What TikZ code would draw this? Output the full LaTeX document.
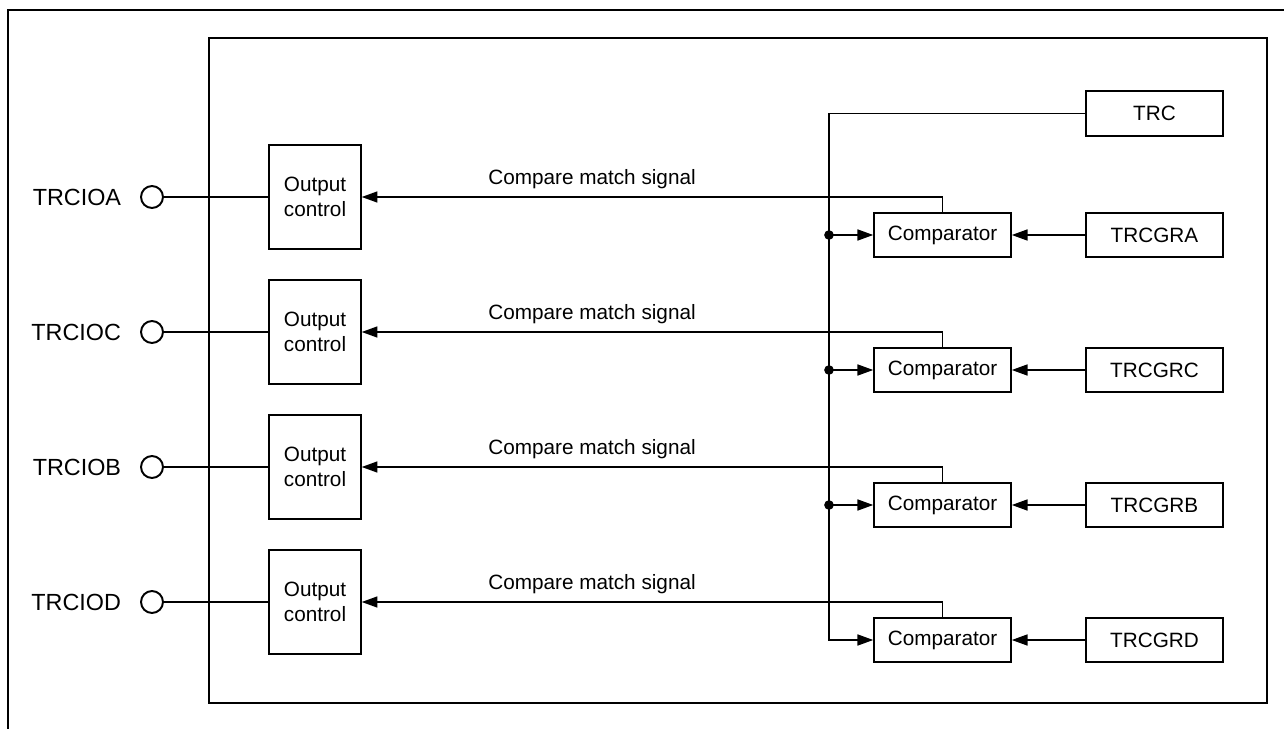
\documentclass[tikz,border=0pt]{standalone}
\usepackage{fontspec}
\setmainfont{Liberation Sans}
\usetikzlibrary{arrows.meta}
\begin{document}
\begin{tikzpicture}[x=0.02cm,y=-0.02cm,
  line width=1.1pt,
  arr/.style={-{Triangle[length=9pt,width=6.2pt]}},
  term/.style={circle,draw,minimum size=12.5pt,inner sep=0pt},
  tlabel/.style={inner sep=0pt,font=\fontsize{13.3}{16}\selectfont},
  outbox/.style={draw,minimum width=52pt,minimum height=59.5pt,inner sep=0pt,align=center,font=\fontsize{11.8}{14}\selectfont},
  cmpbox/.style={draw,minimum width=77.7pt,minimum height=25.5pt,inner sep=0pt,font=\fontsize{11.8}{14}\selectfont},
  sig/.style={inner sep=0pt,font=\fontsize{11.8}{14}\selectfont},
  dot/.style={circle,fill,inner sep=0pt,minimum size=5.5pt}]
\useasboundingbox (0,0) rectangle (1284,729);
% outer partial frame
\draw[line width=1.5pt] (8,729) -- (8,10) -- (1284,10);
% inner box
\draw[line width=1.2pt] (209,38) rectangle (1267,703);
% TRC
\node[cmpbox] (trc) at (1154.5,113.5) {TRC};
\coordinate (bus) at (829,113.5);
% rows
\foreach \n/\lab/\reg/\ry in {A/TRCIOA/TRCGRA/197, C/TRCIOC/TRCGRC/332, B/TRCIOB/TRCGRB/467, D/TRCIOD/TRCGRD/602}{
  \node[term] (t\n) at (152,\ry) {};
  \node[tlabel,anchor=east] (l\n) at (122,\ry) {\lab};
  \node[outbox] (o\n) at (315,\ry) {Output\\control};
  \node[cmpbox] (c\n) at (942.5,\ry+38) {Comparator};
  \node[cmpbox] (r\n) at (1154.5,\ry+38) {\reg};
  \coordinate (j\n) at (829,\ry+38);
  \draw (t\n) -- (t\n -| o\n.west);
  \draw[arr] (c\n.north) |- (o\n.east);
  \node[sig,anchor=south] (s\n) at (592,\ry-7) {Compare match signal};
  \draw[arr] (r\n.west) -- (c\n.east);
}
\draw[arr] (trc.west) -- (bus) |- (cD.west);
\foreach \n in {A,C,B}{
  \draw[arr] (j\n) -- (c\n.west);
  \node[dot] at (j\n) {};
}
\end{tikzpicture}
\end{document}
